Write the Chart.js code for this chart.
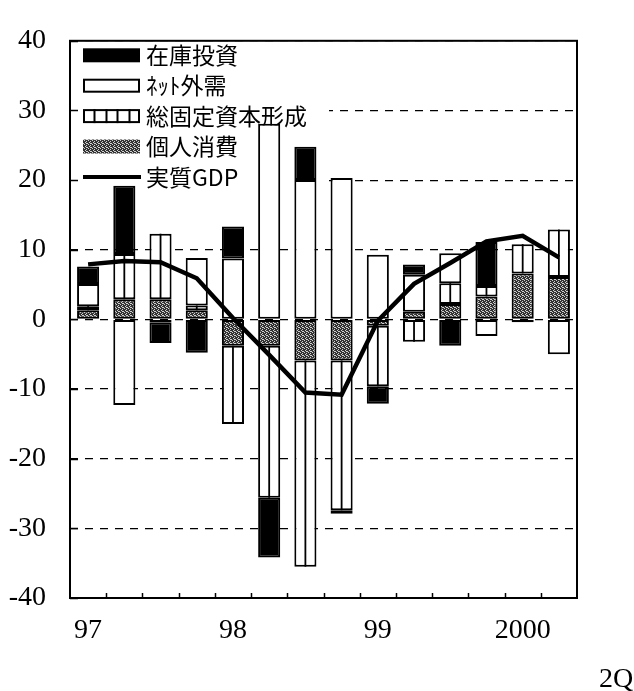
<!DOCTYPE html>
<html>
<head>
<meta charset="utf-8">
<script src="https://cdn.jsdelivr.net/npm/chart.js@4/dist/chart.umd.min.js"></script>
<style>
  html, body { margin: 0; padding: 0; background: #fff; }
  #wrap { width: 634px; height: 691px; position: relative; }
</style>
</head>
<body>
<div id="wrap"><canvas id="c" width="634" height="691"></canvas></div>
<script>
/* 実質GDP成長率の寄与度分解 — stacked bars + line */
(function () {
  'use strict';

  var INK = '#000', PAPER = '#fff';

  // 97Q1 .. 2000Q2
  var quarters = ['97Q1', '97Q2', '97Q3', '97Q4', '98Q1', '98Q2', '98Q3', '98Q4',
                  '99Q1', '99Q2', '99Q3', '99Q4', '2000Q1', '2000Q2'];
  var yearLabels = ['97', '', '', '', '98', '', '', '', '99', '', '', '', '2000', ''];

  var seriesNames = ['在庫投資', 'ﾈｯﾄ外需', '総固定資本形成', '個人消費', '実質GDP'];

  var consumption = [1.3, 2.9, 2.9, 1.3, -3.8, -3.8, -5.9, -5.9, -0.9, 1.1, 2.2, 3.3, 6.6, 6.1];
  var investment  = [0.6, 6.5, 9.4, 0.7, -11.2, -21.8, -29.6, -21.5, -8.7, -3.2, 3.0, 1.5, 4.2, 6.8];
  var netExports  = [3.2, -12.3, -0.4, 6.8, 8.75, 28.1, 20.0, 20.3, 9.3, 5.3, 4.3, -2.4, 0, -5.0];
  var inventory   = [2.5, 9.8, -3.0, -4.8, 4.6, -8.6, 4.8, -0.5, -2.5, 1.5, -3.8, 6.3, -0.4, 0];
  var gdp         = [7.9, 8.4, 8.2, 5.9, 0.2, -5.1, -10.5, -10.8, -0.2, 5.1, 8.1, 11.2, 12.0, 8.9];

  var yMin = -40, yMax = 40, yStep = 10;
  var cornerNote = '2Q';

  var canvas = document.getElementById('c');
  var ctx = canvas.getContext('2d');

  // stippled gray for 個人消費
  function stipple() {
    var c = document.createElement('canvas');
    c.width = c.height = 4;
    var g = c.getContext('2d');
    g.fillStyle = '#333'; g.fillRect(0, 0, 4, 4);
    g.fillStyle = '#d0d0d0';
    [[0, 0], [2, 1], [1, 2], [3, 3], [2, 3]].forEach(function (p) { g.fillRect(p[0], p[1], 1, 1); });
    return ctx.createPattern(c, 'repeat');
  }
  var GRAY = stipple();

  var decor = {
    id: 'decor',
    beforeDatasetsDraw: function (chart) {
      var a = chart.chartArea, c = chart.ctx;
      c.save();
      // legend sits over the grid, under the bars
      c.fillStyle = PAPER;
      c.fillRect(a.left + 1, a.top + 1, 258, 178);
      var x0 = a.left + 13, w = 57, h = 14;
      c.font = '23px "Noto Sans CJK JP"';
      c.textBaseline = 'middle';
      c.textAlign = 'left';
      for (var i = 0; i < seriesNames.length; i++) {
        var cy = a.top + 14.5 + i * 30.4;
        c.lineWidth = 2;
        c.strokeStyle = INK;
        if (i === 0) {
          c.fillStyle = INK; c.fillRect(x0, cy - h / 2, w, h);
        } else if (i === 1) {
          c.fillStyle = PAPER; c.fillRect(x0, cy - h / 2, w, h);
          c.strokeRect(x0 + 1, cy - h / 2 + 1, w - 2, h - 2);
        } else if (i === 2) {
          c.strokeRect(x0 + 1, cy - h / 2 + 1, w - 2, h - 2);
          for (var k = 1; k < 5; k++) {
            var sx = Math.round(x0 + k * w / 5) + 0.5;
            c.beginPath(); c.moveTo(sx, cy - h / 2); c.lineTo(sx, cy + h / 2); c.stroke();
          }
        } else if (i === 3) {
          c.fillStyle = GRAY; c.fillRect(x0, cy - h / 2, w, h);
        } else {
          c.lineWidth = 4;
          c.beginPath(); c.moveTo(x0, cy); c.lineTo(x0 + w + 1, cy); c.stroke();
        }
        c.fillStyle = INK;
        c.fillText(seriesNames[i], x0 + w + 6, cy);
      }
      c.restore();
    },
    afterDatasetDraw: function (chart, args) {
      // 総固定資本形成: white bar split by a center rule
      if (args.index !== 1) return;
      var c = chart.ctx;
      c.save();
      c.strokeStyle = INK; c.lineWidth = 1.8;
      args.meta.data.forEach(function (bar) {
        if (Math.abs(bar.y - bar.base) < 1) return;
        c.beginPath();
        c.moveTo(bar.x, bar.y); c.lineTo(bar.x, bar.base);
        c.stroke();
      });
      c.restore();
    },
    afterDraw: function (chart) {
      var a = chart.chartArea, c = chart.ctx, x = chart.scales.x, y = chart.scales.y;
      c.save();
      c.strokeStyle = INK;
      c.lineWidth = 2;
      c.strokeRect(a.left, a.top, a.right - a.left, a.bottom - a.top);
      c.lineWidth = 1.5;
      y.ticks.forEach(function (t) {
        var py = Math.round(y.getPixelForValue(t.value)) + 0.5;
        c.beginPath(); c.moveTo(a.left, py); c.lineTo(a.left + 8, py); c.stroke();
      });
      for (var i = 0; i < quarters.length - 1; i++) {
        var px = Math.round((x.getPixelForValue(i) + x.getPixelForValue(i + 1)) / 2) + 0.5;
        c.beginPath(); c.moveTo(px, a.bottom); c.lineTo(px, a.bottom - 5); c.stroke();
      }
      c.fillStyle = INK;
      c.font = '28px "Liberation Serif"';
      c.textAlign = 'center';
      c.textBaseline = 'middle';
      c.fillText(cornerNote, 616, 680);
      c.restore();
    }
  };

  function barSet(label, data, fill) {
    return {
      type: 'bar', label: label, data: data,
      backgroundColor: fill, borderColor: INK, borderWidth: 2,
      borderSkipped: false, stack: 'parts', order: 1,
      barPercentage: 0.61, categoryPercentage: 1
    };
  }

  new Chart(canvas, {
    data: {
      labels: quarters,
      datasets: [
        barSet(seriesNames[3], consumption, GRAY),
        barSet(seriesNames[2], investment, PAPER),
        barSet(seriesNames[1], netExports, PAPER),
        barSet(seriesNames[0], inventory, INK),
        {
          type: 'line', label: seriesNames[4], data: gdp, stack: 'gdp', order: 0,
          borderColor: INK, borderWidth: 4.5, pointRadius: 0, tension: 0, fill: false
        }
      ]
    },
    options: {
      responsive: false, animation: false,
      layout: { padding: { top: 21, right: 57, left: 0, bottom: 0 } },
      plugins: { legend: { display: false }, tooltip: { enabled: false } },
      scales: {
        x: {
          stacked: true,
          grid: { display: false },
          border: { display: false },
          ticks: {
            autoSkip: false, maxRotation: 0, padding: 8, color: INK,
            font: { family: 'Liberation Serif', size: 28 },
            callback: function (v, i) { return yearLabels[i]; }
          },
          afterFit: function (s) { s.height = 93; }
        },
        y: {
          stacked: true, min: yMin, max: yMax,
          grid: { color: INK, lineWidth: 1.2, drawTicks: false },
          border: { display: false, dash: [8, 7] },
          ticks: {
            stepSize: yStep, padding: 24, color: INK,
            font: { family: 'Liberation Serif', size: 28 }
          },
          afterFit: function (s) { s.width = 70; }
        }
      }
    },
    plugins: [decor]
  });
})();
</script>
</body>
</html>
